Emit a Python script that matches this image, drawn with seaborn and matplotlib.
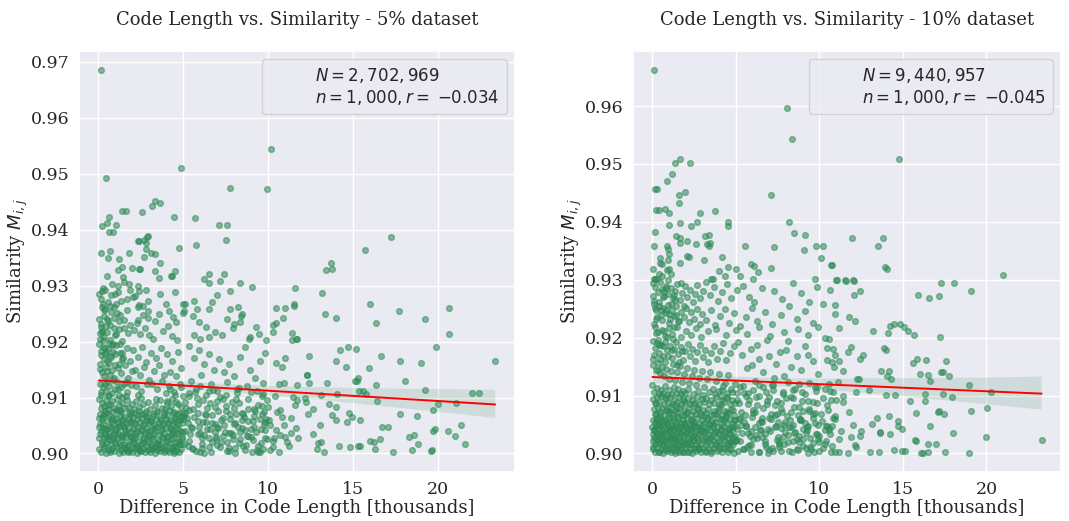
import matplotlib
matplotlib.use("Agg")
import matplotlib.pyplot as plt
import seaborn as sns
import pandas as pd
from matplotlib.lines import Line2D
from matplotlib.colors import to_rgba

# ---------------- data (x = difference in code length [thousands], y = similarity) ----------------
# 5% dataset
p5_upper = [(0.12,.9685),(0.45,.9492),(10.16,.9544),(4.88,.9510),(7.75,.9474),(9.92,.9473),(3.31,.9451),(3.61,.9448),
    (3.16,.9442),(1.37,.9434),(1.61,.9434),(2.55,.9432),(0.63,.9423),(4.43,.9422),(5.71,.9421),(0.19,.9407),(0.49,.9412),
    (1.04,.9409),(7.08,.9409),(7.55,.9409),(0.61,.9396),(0.86,.9395),(2.90,.9388),(2.84,.9386),(2.37,.9380),(2.30,.9380),
    (2.67,.9382),(2.78,.9376),(7.53,.9382),(17.22,.9387),(15.71,.9364),(5.76,.9372),(4.73,.9367),(2.78,.9366),(0.16,.9359),
    (0.67,.9362),(1.82,.9359),(3.12,.9359),(3.31,.9357),(0.57,.9349),(1.20,.9347),(2.65,.9352),(3.61,.9340),(13.67,.9340),
    (13.39,.9328),(13.76,.9330),(1.14,.9327),(1.96,.9332),(2.43,.9329),(3.35,.9326),(4.49,.9326),(0.49,.9317),(1.45,.9316),
    (4.24,.9317),(4.33,.9318),(6.49,.9321),(7.39,.9320),(3.55,.9314),(1.39,.9333),(2.39,.9330)]
p5_920 = [(7.14,.9308),(6.20,.9311),(6.51,.9304),(1.14,.9299),(1.49,.9306),(0.80,.9303),(2.33,.9300),(1.80,.9303),(0.20,.9291),
    (0.37,.9292),(1.88,.9292),(2.39,.9290),(2.80,.9293),(7.73,.9291),(8.35,.9304),(9.06,.9298),(0.96,.9285),(2.16,.9282),
    (3.61,.9285),(4.53,.9288),(2.90,.9273),(3.96,.9267),(4.96,.9268),(5.10,.9268),(0.27,.9268),(0.41,.9259),(1.35,.9273),
    (1.67,.9276),(2.04,.9279),(5.63,.9273),(5.80,.9258),(6.67,.9270),(6.49,.9258),(7.76,.9258),(8.22,.9262),(2.31,.9261),
    (2.37,.9266),(2.63,.9264),(2.90,.9254),(0.71,.9252),(1.10,.9251),(1.67,.9256),(0.53,.9240),(8.37,.9245),(8.45,.9249),
    (7.96,.9232),(7.55,.9240),(1.53,.9239),(1.88,.9230),(2.27,.9233),(2.31,.9239),(2.61,.9248),(2.90,.9242),(3.35,.9237),
    (3.57,.9249),(4.14,.9254),(4.41,.9243),(4.55,.9235),(4.98,.9251),(5.04,.9254),(5.55,.9246),(5.94,.9235),(0.16,.9226),
    (0.22,.9217),(0.53,.9217),(1.00,.9211),(5.61,.9211),(6.00,.9204),(6.49,.9208),(6.88,.9217),(7.25,.9211),(8.35,.9235),
    (8.90,.9208),(8.84,.9204),(9.84,.9202),(0.90,.9225),(1.20,.9222),(1.76,.9215),(2.10,.9220),(2.45,.9213),(2.75,.9224),
    (3.00,.9212),(3.22,.9205),(3.80,.9218),(4.10,.9228),(4.30,.9210),(4.62,.9203),(0.10,.9204),(0.35,.9208),(0.65,.9203),
    (1.40,.9201),(7.90,.9224),(9.30,.9226),(9.45,.9214),(6.30,.9226),(6.95,.9283),
    (0.05,.9285),(0.18,.9262),(0.30,.9245),(0.12,.9232),(0.42,.9228),(0.08,.9215),(0.26,.9203),(0.55,.9236),(0.68,.9264),
    (0.90,.9242),(1.05,.9268),(1.18,.9236),
    (0.04,.9241),(0.14,.9276),(0.23,.9219),(0.33,.9256),(0.58,.9270),(0.69,.9229),(0.94,.9261),(1.06,.9214),(1.17,.9288),
    (1.29,.9247),(0.28,.9296),(0.74,.9283),(1.48,.9225)]
p5_910 = [(0.05,.9195),(0.12,.9183),(0.25,.9190),(0.40,.9178),(0.55,.9187),(0.70,.9175),(0.85,.9182),(0.30,.9168),(0.10,.9160),
    (0.45,.9155),(0.60,.9162),(0.80,.9150),(0.95,.9158),(0.20,.9145),(0.35,.9138),(0.50,.9130),(0.70,.9141),(0.90,.9135),
    (0.08,.9125),(0.25,.9118),(0.42,.9112),(0.62,.9120),(0.78,.9108),(0.98,.9115),(0.15,.9105),(0.55,.9102),
    (1.05,.9193),(1.25,.9180),(1.45,.9170),(1.65,.9188),(1.85,.9165),(1.15,.9152),(1.35,.9143),(1.55,.9158),(1.75,.9135),
    (1.95,.9148),(1.10,.9128),(1.30,.9118),(1.50,.9125),(1.70,.9110),(1.90,.9122),(1.20,.9105),(1.60,.9103),
    (2.05,.9185),(2.30,.9172),(2.55,.9190),(2.80,.9163),(2.15,.9150),(2.45,.9140),(2.70,.9155),(2.95,.9132),(2.20,.9120),
    (2.50,.9112),(2.85,.9125),(2.35,.9104),(3.10,.9180),(3.40,.9170),(3.70,.9188),(3.25,.9148),(3.55,.9158),(3.85,.9140),
    (3.15,.9125),(3.45,.9115),(3.75,.9130),(3.95,.9108),(4.05,.9178),(4.35,.9165),(4.70,.9182),(4.20,.9145),(4.55,.9138),
    (4.85,.9152),(4.15,.9120),(4.45,.9110),(4.80,.9125),(4.95,.9103),
    (5.30,.9192),(5.60,.9170),(5.90,.9185),(6.20,.9160),(6.50,.9178),(6.80,.9150),(7.10,.9168),(7.40,.9145),(7.70,.9160),
    (8.00,.9138),(8.30,.9172),(8.60,.9190),(8.90,.9150),(9.20,.9135),(9.50,.9165),(9.80,.9180),(5.45,.9130),(5.75,.9115),
    (6.05,.9140),(6.35,.9105),(6.65,.9125),(7.00,.9112),(7.55,.9128),(8.15,.9108),(8.75,.9120),(9.35,.9112),(9.65,.9102),
    (0.36,.9189),(0.62,.9197),(0.83,.9196),(1.28,.9195),(0.15,.9176),(0.48,.9165),(0.75,.9172),(1.40,.9180),
    (0.16,.9110),(0.40,.9124),(0.64,.9105),(0.88,.9131),(1.12,.9116),(1.36,.9101),(1.62,.9128),
    (5.30,.9108),(6.00,.9121),(6.75,.9113),(7.50,.9104),(8.25,.9117),(9.00,.9109),(9.70,.9126),(10.40,.9103),
    (0.46,.9182),(0.81,.9193),(1.41,.9168),(0.09,.9151),(0.52,.9148),(0.99,.9177),(1.22,.9159)]
p5_905 = [(0.03,.9098),(0.18,.9091),(0.31,.9085),(0.44,.9096),(0.58,.9079),(0.66,.9088),(0.79,.9093),(0.92,.9082),(1.07,.9097),
    (1.19,.9086),(1.33,.9074),(1.41,.9090),(1.56,.9081),(1.68,.9095),(1.82,.9072),(1.97,.9088),(2.08,.9079),(2.21,.9094),
    (2.36,.9083),(2.49,.9070),(2.62,.9089),(2.77,.9076),(2.93,.9092),(3.04,.9080),(3.18,.9067),(3.32,.9087),(3.47,.9074),
    (3.61,.9095),(3.74,.9081),(3.88,.9068),(4.02,.9090),(4.17,.9077),(4.29,.9085),(4.43,.9064),(4.58,.9092),(4.71,.9073),
    (4.86,.9083),(4.97,.9061),(0.07,.9071),(0.22,.9064),(0.36,.9075),(0.49,.9058),(0.63,.9069),(0.74,.9061),(0.88,.9074),
    (1.01,.9063),(1.14,.9056),(1.27,.9068),(1.38,.9059),(1.52,.9066),(1.64,.9054),(1.77,.9062),(1.90,.9057),(2.03,.9065),
    (2.16,.9053),(2.29,.9061),(2.42,.9056),(2.57,.9063),(2.70,.9052),(2.84,.9060),(2.98,.9055),(3.11,.9058),(3.25,.9051),
    (3.39,.9062),(3.54,.9054),(3.67,.9059),(3.81,.9052),(3.95,.9061),(4.10,.9055),(4.24,.9059),(4.38,.9051),(4.52,.9057),
    (4.66,.9053),(4.80,.9060),(4.93,.9054),(0.12,.9081),(0.27,.9052),(0.54,.9087),(0.83,.9053),(1.22,.9078),(1.47,.9051),
    (1.73,.9083),(2.12,.9073),(2.53,.9099),(2.88,.9067),(3.36,.9098),(3.93,.9079),(4.35,.9097),(4.62,.9071),
    (5.10,.9092),(5.35,.9078),(5.62,.9065),(5.88,.9088),(6.14,.9057),(6.41,.9081),(6.70,.9069),(6.95,.9093),(7.22,.9060),
    (7.48,.9084),(7.76,.9071),(8.03,.9055),(8.28,.9090),(8.55,.9066),(8.82,.9079),(9.08,.9058),(9.37,.9087),(9.64,.9070),
    (9.90,.9095),(5.25,.9055),(5.78,.9099),(6.28,.9070),(6.85,.9052),(7.35,.9097),(7.95,.9082),(8.45,.9059),(9.20,.9075),
    (9.75,.9053),(6.55,.9090),(8.10,.9098),(9.80,.9056),(9.65,.9084),(9.95,.9083)]
p5_900 = [(0.02,.9048),(0.15,.9041),(0.28,.9046),(0.39,.9035),(0.51,.9043),(0.64,.9037),(0.76,.9047),(0.89,.9033),(1.03,.9044),
    (1.16,.9036),(1.29,.9049),(1.40,.9031),(1.54,.9042),(1.66,.9035),(1.79,.9046),(1.92,.9032),(2.05,.9043),(2.18,.9037),
    (2.31,.9048),(2.44,.9034),(2.58,.9041),(2.71,.9036),(2.85,.9045),(2.99,.9031),(3.12,.9042),(3.27,.9035),(3.41,.9047),
    (3.55,.9033),(3.69,.9040),(3.83,.9037),(3.97,.9046),(4.12,.9032),(4.26,.9043),(4.40,.9036),(4.55,.9048),(4.69,.9034),
    (4.83,.9041),(4.96,.9038),(0.06,.9027),(0.19,.9021),(0.33,.9029),(0.45,.9018),(0.58,.9025),(0.71,.9016),(0.84,.9028),
    (0.97,.9019),(1.10,.9026),(1.23,.9014),(1.36,.9024),(1.49,.9017),(1.62,.9029),(1.75,.9015),(1.88,.9023),(2.01,.9018),
    (2.14,.9027),(2.27,.9013),(2.40,.9022),(2.53,.9016),(2.66,.9028),(2.80,.9014),(2.94,.9021),(3.07,.9017),(3.21,.9026),
    (3.35,.9012),(3.49,.9023),(3.63,.9016),(3.77,.9027),(3.91,.9013),(4.05,.9022),(4.19,.9018),(4.33,.9026),(4.47,.9014),
    (4.61,.9021),(4.75,.9017),(4.89,.9025),(0.04,.9008),(0.17,.9003),(0.30,.9010),(0.42,.9001),(0.55,.9007),(0.68,.9002),
    (0.81,.9009),(0.94,.9004),(1.07,.9011),(1.20,.9001),(1.33,.9006),(1.46,.9003),(1.59,.9010),(1.72,.9002),(1.85,.9007),
    (1.98,.9003),(2.11,.9009),(2.24,.9001),(2.37,.9006),(2.50,.9004),(2.63,.9010),(2.76,.9002),(2.90,.9007),(3.04,.9003),
    (3.18,.9009),(3.32,.9001),(3.46,.9006),(3.60,.9004),(3.74,.9010),(3.88,.9002),(4.02,.9007),(4.16,.9003),(4.30,.9009),
    (4.44,.9001),(4.58,.9005),(4.72,.9002),(4.86,.9008),(0.10,.9035),(0.36,.9013),(0.61,.9031),(0.95,.9042),(1.26,.9033),
    (1.57,.9008),(1.83,.9039),(2.09,.9031),(2.35,.9010),(2.62,.9024),(2.93,.9040),(3.16,.9030),(3.44,.9019),(3.72,.9044),
    (4.03,.9029),(4.30,.9040),(4.57,.9012),(4.91,.9030),
    (5.08,.9040),(5.31,.9022),(5.57,.9008),(5.83,.9035),(6.09,.9016),(6.36,.9044),(6.62,.9003),(6.89,.9029),(7.15,.9012),
    (7.42,.9039),(7.68,.9005),(7.94,.9025),(8.21,.9047),(8.48,.9014),(8.74,.9031),(9.01,.9003),(9.28,.9038),(9.54,.9019),
    (9.81,.9042),(5.45,.9048),(5.95,.9002),(6.48,.9027),(7.02,.9045),(7.55,.9020),(8.05,.9001),(8.60,.9042),(9.12,.9024),
    (9.66,.9008),(6.20,.9033),(7.80,.9036),(8.35,.9026),(9.40,.9002)]
p5_low_extra = [(0.11,.9052),(0.24,.9066),(0.37,.9044),(0.52,.9072),(0.65,.9024),(0.78,.9058),(0.93,.9036),(1.06,.9077),
    (1.18,.9047),(1.31,.9015),(1.44,.9062),(1.58,.9039),(1.71,.9005),(1.84,.9069),(1.97,.9028),(2.10,.9054),(2.23,.9011),
    (2.38,.9075),(2.51,.9043),(2.64,.9019),(2.79,.9065),(2.92,.9033),(3.06,.9008),(3.20,.9071),(3.33,.9041),(3.48,.9017),
    (3.62,.9063),(3.76,.9030),(3.90,.9006),(4.04,.9068),(4.18,.9046),(4.31,.9012),(4.46,.9074),(4.60,.9037),(4.74,.9023),
    (4.88,.9066),(0.06,.9063),(0.20,.9017),(0.33,.9070),(0.47,.9031),(0.60,.9048),(0.73,.9006),(0.87,.9064),(1.00,.9022),
    (1.13,.9055),(1.26,.9078),(1.39,.9029),(1.53,.9047),(1.66,.9012),(1.79,.9057),(1.93,.9074),(2.06,.9021),(2.19,.9040),
    (2.33,.9068),(2.46,.9004),(2.60,.9050),(2.73,.9073),(2.87,.9026),(3.01,.9058),(3.14,.9013),(3.28,.9045),(3.42,.9076),
    (3.56,.9009),(3.70,.9050),(3.84,.9072),(3.98,.9019),(4.12,.9056),(4.27,.9034),(4.41,.9005),(4.55,.9061),(4.69,.9044),
    (4.83,.9016),(4.97,.9073),
    (5.05,.9017),(5.22,.9063),(5.40,.9034),(5.58,.9079),(5.76,.9005),(5.94,.9048),(6.12,.9027),(6.30,.9069),(6.48,.9012),
    (6.66,.9055),(6.84,.9038),(7.02,.9076),(7.20,.9021),(7.38,.9050),(7.56,.9004),(7.74,.9062),(7.92,.9033),(8.10,.9071),
    (8.28,.9018),(8.46,.9046),(8.64,.9007),(8.82,.9058),(9.00,.9029),(9.18,.9067),(9.36,.9014),(9.54,.9044),(9.72,.9074),
    (9.90,.9025),(10.08,.9051),(10.26,.9012),(10.44,.9042),(10.62,.9003),(10.80,.9066),(10.98,.9030),(5.12,.9072),
    (5.48,.9010),(5.85,.9058),(6.22,.9001),(6.58,.9043),(6.95,.9015),(7.32,.9064),(7.68,.9037),(8.05,.9009),(8.42,.9073),
    (8.78,.9032),(9.15,.9047),(9.52,.9003),(9.88,.9061),(10.35,.9027),(10.70,.9078),(11.20,.9014),(11.60,.9045),
    (4.05,.9093),(4.20,.9115),(4.36,.9072),(4.52,.9104),(4.68,.9089),(4.84,.9118),(5.02,.9067),(5.18,.9081),(5.35,.9103),
    (5.51,.9046),(5.67,.9110),(5.84,.9073),(6.00,.9037),(6.17,.9095),(6.33,.9057),(6.50,.9112),(6.66,.9020),(6.83,.9083),
    (7.00,.9048),(7.16,.9101),(7.33,.9031),(7.49,.9076),(7.66,.9009),(7.83,.9092),(7.99,.9053),(8.16,.9116),(8.32,.9039),
    (8.49,.9071),(8.66,.9015),(8.82,.9098),(8.99,.9044),(9.16,.9080),(9.32,.9006),(9.49,.9062),(9.66,.9107),(9.82,.9028),
    (4.44,.9027),(5.26,.9014),(6.08,.9009),(6.92,.9025)]
p5_right = [(23.35,.9166),(20.65,.9260),(20.65,.9214),(19.20,.9241),(19.86,.9191),(19.00,.9162),(19.24,.9114),(19.69,.9077),
    (19.82,.9044),(19.63,.9007),(19.58,.9005),(20.00,.9089),(21.04,.9090),(20.60,.9041),(20.96,.9032),(21.35,.9050),
    (21.59,.9017),(21.98,.9108),(22.37,.9108),(19.70,.9040),(18.55,.9033),(18.80,.9016),(18.25,.9029),(18.45,.9006),
    (18.75,.9067),(17.76,.9071),(18.06,.9129),(17.72,.9165),(17.67,.9255),(16.35,.9234),(16.00,.9267),(16.65,.9175),
    (15.90,.9152),(16.35,.9122),(16.39,.9093),(17.02,.9048),(16.70,.9048),(16.57,.9026),(16.30,.9008),(16.00,.9023),
    (17.33,.9002),(16.20,.9021),(15.75,.9107),(15.55,.9111),(15.35,.9112),(15.20,.9130),(15.10,.9129),(15.30,.9134),
    (14.67,.9191),(15.16,.9186),(14.57,.9155),(13.96,.9166),(14.20,.9185),(14.00,.9242),(13.14,.9287),(13.31,.9249),
    (13.45,.9126),(14.04,.9107),(14.00,.9083),(13.57,.9088),(13.10,.9104),(13.06,.9051),(13.73,.9068),(13.97,.9060),
    (14.74,.9072),(14.65,.9056),(14.93,.9065),(15.40,.9060),(14.16,.9014),(14.78,.9011),(15.40,.9014),(15.30,.9013),
    (13.25,.9002),(12.86,.9008),(12.90,.9018),(13.10,.9020),(12.60,.9034),(12.33,.9071),(12.60,.9080),(12.24,.9092),
    (12.16,.9099),(12.41,.9126),(12.30,.9140),(12.25,.9141),(12.39,.9175),(11.63,.9205),(11.53,.9263),(11.53,.9268),
    (11.55,.9295),(11.70,.9204),(11.40,.9202),(11.38,.9216),(10.86,.9242),(10.96,.9260),(10.43,.9234),(10.25,.9230),
    (10.47,.9260),(10.30,.9217),(10.82,.9154),(11.00,.9171),(10.47,.9161),(10.63,.9125),(10.90,.9126),(11.67,.9122),
    (11.47,.9101),(11.70,.9095),(11.55,.9086),(11.35,.9063),(10.94,.9051),(11.35,.9036),(11.75,.9027),(11.10,.9021),
    (10.70,.9033),(10.25,.9022),(10.10,.9006),(10.50,.9074),(10.05,.9060)]

# 10% dataset
p10_upper = [(0.14,.9662),(8.04,.9597),(8.39,.9544),(14.74,.9509),(1.68,.9509),(1.40,.9502),(2.25,.9502),(1.20,.9483),
    (0.92,.9470),(0.16,.9456),(0.27,.9457),(1.94,.9451),(1.62,.9447),(1.60,.9433),(7.14,.9446),(0.76,.9423),(0.23,.9421),
    (0.43,.9420),(1.03,.9416),(2.89,.9416),(3.75,.9418),(2.71,.9400),(1.69,.9398),(4.55,.9400),(4.53,.9393),(2.34,.9393),
    (0.99,.9394),(8.17,.9399),(0.19,.9382),(8.48,.9380),(1.43,.9376),(1.68,.9372),(1.68,.9363),(2.11,.9367),(3.16,.9376),
    (3.40,.9377),(2.62,.9362),(3.29,.9361),(3.40,.9358),(3.45,.9364),(0.92,.9358),(0.95,.9354),(0.14,.9359),(5.57,.9358),
    (7.27,.9356),(9.15,.9378),(9.78,.9358),(10.20,.9358),(9.11,.9351),(11.95,.9372),(13.81,.9372),(13.50,.9359),(1.04,.9344),
    (0.47,.9338),(2.09,.9341),(2.18,.9340),(4.16,.9339),(3.13,.9334),(10.09,.9337),(0.49,.9329),(1.66,.9329),(5.94,.9327),
    (6.12,.9324),(10.71,.9326),(4.55,.9322),(13.91,.9322),(14.03,.9318),(20.96,.9308),(4.01,.9316),(5.01,.9318),(6.35,.9314),
    (7.12,.9320),(0.91,.9317),(0.41,.9310),(0.61,.9306),(1.00,.9318),(5.24,.9307),(4.34,.9306),(0.10,.9301),(0.18,.9302),
    (3.67,.9301),(3.52,.9301),(6.02,.9301),(9.72,.9301),(10.99,.9299),(11.54,.9299),(12.04,.9299),(0.98,.9299),
    (0.03,.9318),(0.60,.9327),(1.15,.9310),(0.98,.9335),(0.30,.9301)]
p10_920 = [(0.05,.9295),(0.20,.9288),(0.33,.9279),(0.48,.9297),(0.62,.9284),(0.71,.9272),(0.86,.9290),(0.97,.9276),(1.12,.9286),
    (1.25,.9269),(1.38,.9281),(1.52,.9293),(1.66,.9265),(1.80,.9278),(1.96,.9289),(2.10,.9270),(2.24,.9283),(2.42,.9262),
    (2.58,.9276),(2.70,.9291),(2.88,.9268),(3.05,.9281),(3.22,.9296),(3.45,.9273),(3.70,.9287),(3.92,.9264),(4.20,.9279),
    (4.48,.9293),(4.75,.9268),(5.10,.9283),(5.42,.9290),(5.80,.9270),(6.12,.9262),(6.55,.9285),(7.30,.9281),(7.80,.9266),
    (8.40,.9294),(8.90,.9277),(9.40,.9261),(9.85,.9288),(0.10,.9258),(0.25,.9247),(0.40,.9255),(0.55,.9239),(0.68,.9251),
    (0.82,.9243),(0.93,.9257),(1.05,.9232),(1.18,.9248),(1.32,.9238),(1.45,.9254),(1.58,.9229),(1.72,.9244),(1.88,.9236),
    (2.03,.9252),(2.18,.9227),(2.35,.9245),(2.52,.9233),(2.66,.9249),(2.84,.9224),(3.00,.9241),(3.25,.9230),(3.50,.9247),
    (3.78,.9222),(4.05,.9238),(4.35,.9250),(4.62,.9226),(4.90,.9243),(5.25,.9221),(5.60,.9236),(5.95,.9252),(6.30,.9229),
    (6.75,.9244),(7.20,.9223),(7.70,.9240),(8.20,.9255),(8.65,.9233),(9.15,.9246),(9.60,.9225),(0.15,.9218),(0.35,.9209),
    (0.58,.9214),(0.78,.9203),(0.99,.9216),(1.22,.9206),(1.48,.9219),(1.75,.9201),(2.00,.9212),(2.30,.9205),(2.60,.9217),
    (2.95,.9202),(3.35,.9211),(3.80,.9215),(4.40,.9204),(5.00,.9213),(5.70,.9207),(6.40,.9218),(7.05,.9203),(7.90,.9210),
    (8.70,.9215),(9.30,.9205),
    (0.05,.9272),(0.18,.9251),(0.31,.9236),(0.10,.9224),(0.44,.9262),(0.22,.9208),(0.57,.9230),(0.70,.9281),(0.85,.9247),
    (1.00,.9226),(1.15,.9259),(1.30,.9273),(1.45,.9240),
    (0.12,.9264),(0.21,.9233),(0.51,.9248),(0.71,.9212),(0.82,.9286),(1.04,.9241),(1.26,.9198),(1.37,.9265),(1.59,.9229),
    (1.70,.9294),(1.92,.9254),(0.66,.9271),(1.32,.9219)]
p10_910 = [(0.03,.9195),(0.16,.9182),(0.29,.9191),(0.41,.9174),(0.54,.9187),(0.67,.9169),(0.80,.9193),(0.92,.9178),(1.06,.9186),
    (1.19,.9165),(1.31,.9180),(1.44,.9192),(1.58,.9171),(1.71,.9184),(1.85,.9162),(1.99,.9177),(2.13,.9189),(2.27,.9168),
    (2.41,.9181),(2.56,.9160),(2.71,.9175),(2.86,.9188),(3.02,.9166),(3.18,.9179),(3.35,.9158),(3.52,.9173),(3.70,.9186),
    (3.88,.9164),(4.06,.9177),(4.25,.9190),(4.45,.9161),(4.66,.9174),(4.88,.9185),(0.08,.9153),(0.21,.9145),(0.35,.9157),
    (0.47,.9139),(0.60,.9150),(0.73,.9134),(0.86,.9146),(0.99,.9129),(1.12,.9142),(1.25,.9155),(1.38,.9127),(1.52,.9140),
    (1.65,.9151),(1.79,.9124),(1.93,.9137),(2.07,.9148),(2.21,.9121),(2.36,.9134),(2.50,.9145),(2.65,.9118),(2.80,.9131),
    (2.96,.9143),(3.12,.9115),(3.28,.9128),(3.45,.9140),(3.62,.9112),(3.80,.9125),(3.98,.9137),(4.16,.9109),(4.36,.9122),
    (4.56,.9135),(4.77,.9107),(4.96,.9120),(0.02,.9118),(0.14,.9106),(0.27,.9113),(0.39,.9102),(0.52,.9110),(0.64,.9104),
    (0.77,.9116),(0.90,.9101),(1.03,.9109),(1.17,.9103),(1.30,.9114),(1.43,.9105),(1.57,.9111),(1.70,.9102),(1.84,.9108),
    (1.98,.9104),(2.12,.9112),(2.45,.9103),(2.75,.9108),(3.05,.9101),(3.40,.9106),(3.75,.9103),(4.10,.9100),(4.50,.9104),
    (5.15,.9192),(5.40,.9170),(5.65,.9148),(5.90,.9181),(6.15,.9125),(6.40,.9163),(6.65,.9140),(6.90,.9196),(7.15,.9118),
    (7.40,.9155),(7.65,.9176),(7.90,.9133),(8.15,.9195),(8.40,.9110),(8.65,.9168),(8.90,.9145),(9.15,.9186),(9.40,.9121),
    (9.65,.9159),(9.90,.9138),(5.25,.9115),(5.75,.9105),(6.30,.9188),(6.80,.9107),(7.30,.9130),(7.85,.9102),(8.30,.9150),
    (8.80,.9120),(9.35,.9170),(9.80,.9108),(6.00,.9152),(7.00,.9168),(8.00,.9178),
    (0.38,.9196),(0.63,.9185),(0.92,.9201),(1.22,.9178),(0.14,.9170),(0.50,.9163),(0.78,.9158),
    (5.50,.9105),(6.40,.9118),(7.25,.9110),(8.10,.9124),(8.95,.9107),(9.75,.9115),(10.60,.9120),
    (0.40,.9187),(0.93,.9169),(1.48,.9152),(1.81,.9177),(0.07,.9163),(0.36,.9145),(1.64,.9158)]
p10_905 = [(0.04,.9094),(0.17,.9087),(0.30,.9097),(0.43,.9089),(0.56,.9099),(0.69,.9086),(0.82,.9095),(0.95,.9088),(1.08,.9097),
    (1.21,.9085),(1.34,.9093),(1.47,.9089),(1.60,.9098),(1.73,.9086),(1.86,.9094),(1.99,.9087),(2.12,.9096),(2.26,.9085),
    (2.40,.9092),(2.54,.9088),(2.68,.9097),(2.82,.9086),(2.96,.9094),(3.10,.9089),(3.25,.9096),(3.40,.9085),(3.55,.9093),
    (3.70,.9087),(3.85,.9098),(4.00,.9086),(4.16,.9092),(4.32,.9089),(4.48,.9096),(4.64,.9085),(4.80,.9093),(4.95,.9088),
    (0.09,.9076),(0.22,.9069),(0.35,.9079),(0.48,.9071),(0.61,.9078),(0.74,.9067),(0.87,.9075),(1.00,.9070),(1.13,.9080),
    (1.26,.9068),(1.39,.9074),(1.52,.9071),(1.65,.9079),(1.78,.9066),(1.91,.9075),(2.04,.9070),(2.18,.9078),(2.32,.9067),
    (2.46,.9074),(2.60,.9069),(2.75,.9079),(2.90,.9066),(3.05,.9075),(3.20,.9070),(3.36,.9077),(3.52,.9067),(3.68,.9074),
    (3.84,.9069),(4.00,.9078),(4.18,.9066),(4.36,.9073),(4.54,.9070),(4.72,.9077),(4.90,.9067),(0.03,.9058),(0.15,.9052),
    (0.28,.9061),(0.40,.9054),(0.53,.9060),(0.66,.9051),(0.79,.9057),(0.92,.9053),(1.05,.9062),(1.18,.9050),(1.31,.9056),
    (1.44,.9053),(1.57,.9061),(1.70,.9051),(1.83,.9058),(1.96,.9052),(2.10,.9060),(2.24,.9050),(2.38,.9057),(2.52,.9054),
    (2.67,.9061),(2.82,.9051),(2.97,.9058),(3.12,.9052),(3.28,.9060),(3.44,.9050),(3.60,.9056),(3.77,.9054),(3.94,.9061),
    (4.11,.9051),(4.29,.9057),(4.47,.9053),(4.65,.9060),(4.83,.9051),(4.98,.9057),
    (5.08,.9093),(5.30,.9071),(5.52,.9055),(5.75,.9086),(5.98,.9063),(6.20,.9097),(6.42,.9052),(6.65,.9078),(6.88,.9091),
    (7.10,.9060),(7.33,.9083),(7.56,.9054),(7.79,.9072),(8.02,.9095),(8.25,.9058),(8.48,.9080),(8.71,.9066),(8.94,.9090),
    (9.17,.9053),(9.40,.9077),(9.63,.9062),(9.86,.9088),(5.20,.9060),(5.62,.9099),(6.05,.9075),(6.55,.9061),(7.00,.9098),
    (7.45,.9068),(7.95,.9055),(8.40,.9096),(8.85,.9059),(9.30,.9090),(9.75,.9070),(6.30,.9084),(7.70,.9088),(9.05,.9073)]
p10_900 = [(0.02,.9046),(0.14,.9040),(0.26,.9048),(0.38,.9042),(0.50,.9047),(0.62,.9039),(0.74,.9045),(0.86,.9041),(0.98,.9049),
    (1.10,.9038),(1.22,.9044),(1.34,.9040),(1.46,.9048),(1.58,.9039),(1.70,.9045),(1.82,.9041),(1.94,.9047),(2.07,.9038),
    (2.20,.9044),(2.33,.9041),(2.46,.9048),(2.60,.9039),(2.74,.9045),(2.88,.9040),(3.02,.9047),(3.17,.9038),(3.32,.9044),
    (3.47,.9041),(3.62,.9048),(3.78,.9039),(3.94,.9045),(4.10,.9040),(4.27,.9047),(4.44,.9038),(4.61,.9044),(4.78,.9041),
    (4.95,.9047),(0.07,.9034),(0.19,.9028),(0.31,.9036),(0.43,.9030),(0.55,.9035),(0.67,.9027),(0.79,.9033),(0.91,.9029),
    (1.03,.9037),(1.15,.9026),(1.27,.9032),(1.39,.9029),(1.51,.9036),(1.63,.9027),(1.75,.9033),(1.87,.9030),(2.00,.9035),
    (2.13,.9026),(2.26,.9032),(2.39,.9029),(2.53,.9036),(2.67,.9027),(2.81,.9033),(2.95,.9030),(3.10,.9035),(3.25,.9026),
    (3.40,.9032),(3.55,.9029),(3.70,.9036),(3.86,.9027),(4.02,.9033),(4.18,.9030),(4.35,.9035),(4.52,.9026),(4.69,.9032),
    (4.86,.9029),(0.03,.9022),(0.15,.9016),(0.27,.9024),(0.39,.9018),(0.51,.9023),(0.63,.9015),(0.75,.9021),(0.87,.9017),
    (0.99,.9025),(1.11,.9014),(1.23,.9020),(1.35,.9017),(1.47,.9024),(1.59,.9015),(1.71,.9021),(1.83,.9018),(1.95,.9023),
    (2.08,.9014),(2.21,.9020),(2.34,.9017),(2.48,.9024),(2.62,.9015),(2.76,.9021),(2.90,.9018),(3.05,.9023),(3.20,.9014),
    (3.35,.9020),(3.50,.9017),(3.66,.9024),(3.82,.9015),(3.98,.9021),(4.14,.9018),(4.31,.9023),(4.48,.9014),(4.65,.9020),
    (4.82,.9017),(4.97,.9022),(0.06,.9008),(0.18,.9003),(0.30,.9010),(0.42,.9002),(0.54,.9007),(0.66,.9001),(0.78,.9009),
    (0.90,.9004),(1.02,.9011),(1.14,.9002),(1.26,.9006),(1.38,.9001),(1.50,.9009),(1.62,.9003),(1.74,.9008),(1.86,.9002),
    (1.98,.9010),(2.11,.9003),(2.24,.9007),(2.37,.9001),(2.51,.9009),(2.65,.9004),(2.79,.9008),(2.93,.9002),(3.08,.9010),
    (3.23,.9003),(3.38,.9007),(3.54,.9001),(3.70,.9009),(3.86,.9004),(4.02,.9008),(4.19,.9002),(4.36,.9010),(4.53,.9003),
    (4.70,.9007),(4.87,.9001),
    (5.05,.9042),(5.27,.9021),(5.49,.9008),(5.71,.9035),(5.93,.9014),(6.15,.9046),(6.37,.9003),(6.59,.9028),(6.81,.9011),
    (7.03,.9039),(7.25,.9005),(7.47,.9024),(7.69,.9044),(7.91,.9016),(8.13,.9032),(8.35,.9002),(8.57,.9037),(8.79,.9019),
    (9.01,.9043),(9.23,.9009),(9.45,.9027),(9.67,.9003),(9.89,.9034),(5.15,.9004),(5.60,.9048),(6.05,.9025),(6.50,.9040),
    (6.95,.9001),(7.40,.9047),(7.85,.9029),(8.30,.9045),(8.75,.9006),(9.20,.9036),(9.60,.9018),(5.85,.9030),(6.75,.9017),
    (7.60,.9012),(8.45,.9022),(9.35,.9047)]
p10_low_extra = [(0.09,.9041),(0.22,.9058),(0.35,.9019),(0.49,.9067),(0.62,.9033),(0.76,.9006),(0.89,.9052),(1.02,.9074),
    (1.16,.9027),(1.29,.9045),(1.42,.9011),(1.56,.9063),(1.69,.9036),(1.83,.9002),(1.96,.9049),(2.10,.9071),(2.24,.9016),
    (2.38,.9055),(2.52,.9030),(2.66,.9077),(2.80,.9009),(2.94,.9043),(3.09,.9065),(3.24,.9024),(3.39,.9051),(3.54,.9004),
    (3.69,.9069),(3.84,.9037),(3.99,.9013),(4.15,.9059),(4.31,.9028),(4.47,.9072),(4.63,.9008),(4.79,.9046),(4.95,.9031),
    (0.04,.9012),(0.17,.9069),(0.30,.9034),(0.44,.9003),(0.57,.9056),(0.70,.9021),(0.84,.9075),(0.97,.9040),(1.10,.9007),
    (1.24,.9061),(1.37,.9025),(1.51,.9078),(1.64,.9044),(1.78,.9015),(1.91,.9066),(2.05,.9035),(2.19,.9002),(2.33,.9059),
    (2.47,.9023),(2.61,.9048),(2.75,.9012),(2.89,.9070),(3.04,.9038),(3.19,.9005),(3.34,.9062),(3.49,.9026),(3.64,.9051),
    (3.79,.9017),(3.94,.9073),(4.10,.9042),(4.26,.9009),(4.42,.9064),(4.58,.9035),(4.74,.9020),(4.90,.9058),
    (0.12,.9026),(0.38,.9049),(0.66,.9014),(0.94,.9062),(1.20,.9031),(1.48,.9005),(1.75,.9053),(2.02,.9018),(2.30,.9044),
    (2.58,.9007),(0.25,.9088),(0.80,.9096),(1.35,.9083),(1.90,.9091),(2.45,.9086),
    (5.06,.9024),(5.25,.9061),(5.44,.9008),(5.63,.9047),(5.82,.9015),(6.01,.9070),(6.20,.9032),(6.39,.9003),(6.58,.9055),
    (6.77,.9021),(6.96,.9043),(7.15,.9010),(7.34,.9066),(7.53,.9028),(7.72,.9004),(7.91,.9050),(8.10,.9019),(8.29,.9072),
    (8.48,.9036),(8.67,.9007),(8.86,.9058),(9.05,.9025),(9.24,.9046),(9.43,.9012),(9.62,.9069),(9.81,.9033),(10.00,.9005),
    (10.19,.9056),(10.38,.9022),(10.57,.9040),(10.76,.9013),(10.95,.9064),(5.35,.9036),(5.90,.9002),(6.45,.9040),
    (7.00,.9062),(7.60,.9017),(8.20,.9045),(8.80,.9030),(9.35,.9001),(9.90,.9050),(10.50,.9075),(11.30,.9038),
    (4.02,.9108),(4.13,.9083),(4.25,.9116),(4.37,.9061),(4.49,.9097),(4.61,.9042),(4.73,.9111),(4.85,.9075),(4.97,.9023),
    (5.09,.9104),(5.21,.9088),(5.33,.9050),(5.45,.9117),(5.57,.9066),(5.69,.9011),(5.81,.9093),(5.93,.9039),(6.05,.9109),
    (6.17,.9071),(6.29,.9027),(6.41,.9099),(6.53,.9056),(6.65,.9114),(6.77,.9034),(6.89,.9085),(7.01,.9006),(7.13,.9068),
    (7.25,.9118),(7.37,.9045),(7.49,.9091),(7.61,.9019),(7.73,.9077),(7.85,.9106),(7.97,.9037),(8.09,.9064),(8.21,.9004),
    (8.33,.9097),(8.45,.9049),(8.57,.9112),(8.69,.9025),(8.81,.9081),(8.93,.9058),(9.05,.9013),(9.17,.9102),(9.29,.9041),
    (9.41,.9074),(9.53,.9008),(9.65,.9089),(9.77,.9052),(9.89,.9115),(10.01,.9031),(10.13,.9069),(10.25,.9095),
    (10.37,.9017),(10.49,.9083),(10.61,.9044),(10.73,.9003),(10.85,.9107),(10.97,.9060),(4.55,.9018)]
p10_right = [(23.30,.9024),(20.27,.9107),(20.04,.9078),(19.99,.9029),(19.10,.9280),(19.08,.9073),(18.96,.9118),(18.96,.9001),
    (18.07,.9295),(17.98,.9036),(17.93,.9097),(17.73,.9133),(17.58,.9159),(17.47,.9068),(17.29,.9294),(17.19,.9272),
    (17.25,.9202),(17.29,.9141),(17.39,.9141),(17.12,.9071),(17.19,.9073),(17.53,.9002),(17.41,.9102),(16.96,.9017),
    (16.63,.9048),(16.53,.9135),(16.60,.9126),(16.55,.9268),(16.53,.9017),(16.48,.9003),(16.36,.9161),(16.32,.9102),
    (16.32,.9090),(16.00,.9137),(15.89,.9274),(15.84,.9164),(15.76,.9021),(16.10,.9001),(16.20,.9001),(15.72,.9023),
    (15.78,.9070),(15.44,.9090),(15.58,.9157),(15.68,.9204),(15.33,.9211),(15.07,.9219),(14.80,.9223),(14.48,.9223),
    (14.25,.9221),(14.29,.9128),(14.94,.9043),(14.70,.9056),(14.70,.9047),(14.94,.9005),(15.13,.9005),(14.48,.9006),
    (14.54,.9101),(14.18,.9143),(14.08,.9134),(14.00,.9178),(13.90,.9183),(14.13,.9208),(14.02,.9101),(14.18,.9064),
    (13.66,.9037),(13.66,.9035),(14.25,.9033),(13.56,.9002),(13.03,.9003),(13.24,.9212),(13.67,.9142),(12.97,.9110),
    (13.43,.9061),(13.18,.9051),(12.59,.9170),(12.45,.9163),(12.40,.9129),(12.23,.9129),(12.19,.9107),(12.43,.9280),
    (12.08,.9273),(12.10,.9298),(12.16,.9228),(11.89,.9184),(11.71,.9176),(11.42,.9143),(11.79,.9236),(11.20,.9216),
    (11.20,.9159),(11.14,.9123),(11.42,.9099),(11.39,.9089),(11.02,.9092),(10.77,.9158),(10.95,.9170),(10.85,.9181),
    (10.89,.9150),(10.47,.9162),(10.47,.9183),(10.57,.9198),(10.33,.9200),(10.33,.9112),(10.67,.9108),(10.71,.9092),
    (10.92,.9256),(10.92,.9241),(10.67,.9283),(11.08,.9299),(11.58,.9298),(10.77,.9325),(10.20,.9259),(9.95,.9218),
    (11.79,.9071),(12.04,.9050),(12.12,.9014),(12.19,.9011),(12.52,.9039),(12.45,.9031),(11.71,.9001),(11.90,.9028),
    (11.20,.9025),(11.20,.9003),(10.95,.9003),(10.82,.9061),(10.75,.9047),(10.49,.9047),(10.33,.9040),(10.67,.9034),
    (10.41,.9048),(9.94,.9025),(10.00,.9020),(10.20,.9009)]

panels = [
    ("Code Length vs. Similarity - 5% dataset",
     p5_upper + p5_920 + p5_910 + p5_905 + p5_900 + p5_low_extra + p5_right,
     "2,702,969", "1,000", "0.034"),
    ("Code Length vs. Similarity - 10% dataset",
     p10_upper + p10_920 + p10_910 + p10_905 + p10_900 + p10_low_extra + p10_right,
     "9,440,957", "1,000", "0.045"),
]
x_label = "Difference in Code Length [thousands]"
y_label = "Similarity $M_{i,j}$"

# ---------------- plot ----------------
sns.set_theme(style="darkgrid", font="serif")
plt.rcParams["font.family"] = ["DejaVu Serif"]

fig = plt.figure(figsize=(10.69, 5.21), dpi=100)
axes = [fig.add_axes([0.0739, 0.094, 0.4079, 0.808]),
        fig.add_axes([0.5921, 0.094, 0.4005, 0.808])]

for ax, (title, pts, N, n, r) in zip(axes, panels):
    df = pd.DataFrame(pts, columns=["diff", "sim"])
    sns.regplot(data=df, x="diff", y="sim", ax=ax, color="seagreen", seed=0,
                scatter_kws={"s": 17, "alpha": 0.55},
                line_kws={"color": "red", "lw": 1.4})
    # confidence band in the scatter colour
    for coll in ax.collections[1:]:
        coll.set_facecolor(to_rgba("seagreen", 0.15))
        coll.set_edgecolor("none")
    ax.set_title(title, fontsize=13, pad=19, color="0.15")
    ax.set_xlabel(x_label, fontsize=13, color="0.15", labelpad=1)
    ax.set_ylabel(y_label, fontsize=13, color="0.15", labelpad=1)
    ax.tick_params(labelsize=12.5, colors="0.15", pad=0.5)
    label = f"$N = {N}$\n$n = {n}, r = \\;{{-}}{r}$"
    h = Line2D([], [], linestyle="none")
    ax.legend([h], [label], loc="upper right", prop={"family": "DejaVu Sans", "size": 12})

fig.savefig("out.png", dpi=100)
